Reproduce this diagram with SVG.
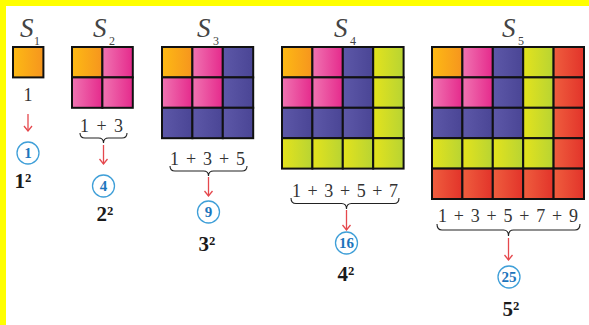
<svg xmlns="http://www.w3.org/2000/svg" width="589" height="325" viewBox="0 0 589 325">
<defs>
<linearGradient id="gO" x1="0" y1="0" x2="1" y2="0"><stop offset="0" stop-color="#FDBA14"/><stop offset="1" stop-color="#F6951E"/></linearGradient>
<linearGradient id="gP" x1="0" y1="0" x2="1" y2="0"><stop offset="0" stop-color="#F074B2"/><stop offset="1" stop-color="#E52A8C"/></linearGradient>
<linearGradient id="gB" x1="0" y1="0" x2="1" y2="0"><stop offset="0" stop-color="#5D58A8"/><stop offset="1" stop-color="#4A4595"/></linearGradient>
<linearGradient id="gY" x1="0" y1="0" x2="1" y2="0"><stop offset="0" stop-color="#E4E31C"/><stop offset="1" stop-color="#B8D433"/></linearGradient>
<linearGradient id="gR" x1="0" y1="0" x2="1" y2="0"><stop offset="0" stop-color="#EF5E3E"/><stop offset="1" stop-color="#E2332A"/></linearGradient>
<marker id="ah" viewBox="0 0 10 10" refX="9" refY="5" markerWidth="10" markerHeight="10" markerUnits="userSpaceOnUse" orient="auto">
<path d="M4,1 L9,5 L4,9" fill="none" stroke="#E5484D" stroke-width="1.3"/>
</marker>
</defs>
<style>
.c{stroke:#111;stroke-width:2}
.o{fill:url(#gO)}.p{fill:url(#gP)}.b{fill:url(#gB)}.y{fill:url(#gY)}.r{fill:url(#gR)}
.lab{font-family:"Liberation Serif",serif;font-style:italic;font-size:27px;fill:#444}
.sub{font-family:"Liberation Serif",serif;font-size:12px;fill:#444}
.sum{font-family:"Liberation Serif",serif;font-size:18px;fill:#333;text-anchor:middle}
.circ{fill:#fff;stroke:#3F9FD8;stroke-width:1.3}
.cn{font-family:"Liberation Serif",serif;font-weight:bold;font-size:15px;fill:#1C75BC;text-anchor:middle}
.sq{font-family:"Liberation Serif",serif;font-weight:bold;font-size:21px;fill:#1a1a1a;text-anchor:middle}
.arr{stroke:#E5484D;stroke-width:1.3;fill:none;marker-end:url(#ah)}
.br{stroke:#222;stroke-width:1.1;fill:none}
</style>
<rect x="0" y="0" width="589" height="325" fill="#fff"/>
<rect x="0" y="0" width="589" height="6" fill="#FFFF00"/>
<rect x="0" y="0" width="6" height="325" fill="#FFFF00"/>

<g id="S1">
<text class="lab" x="20" y="37">S</text><text class="sub" x="34" y="45">1</text>
<rect class="c o" x="13" y="47" width="30.4" height="30.4"/>
<text class="sum" x="28" y="101" font-size="17">1</text>
<circle class="circ" cx="28" cy="153" r="11"/><text class="cn" x="28" y="158">1</text>
<text class="sq" x="23" y="188">1²</text>
</g>

<g id="S2">
<text class="lab" x="93" y="37">S</text><text class="sub" x="109" y="45">2</text>
<rect class="c o" x="72" y="47" width="30.4" height="30.4"/>
<rect class="c p" x="102.4" y="47" width="30.4" height="30.4"/>
<rect class="c p" x="72" y="77.4" width="30.4" height="30.4"/>
<rect class="c p" x="102.4" y="77.4" width="30.4" height="30.4"/>
<text class="sum" x="101.5" y="132" textLength="43" lengthAdjust="spacing">1 + 3</text>
<circle class="circ" cx="103.5" cy="186" r="11"/><text class="cn" x="103.5" y="191">4</text>
<text class="sq" x="105" y="221">2²</text>
</g>

<g id="S3">
<text class="lab" x="197" y="37">S</text><text class="sub" x="213" y="45">3</text>
<g class="c">
<rect class="o" x="162" y="47" width="30.4" height="30.4"/>
<rect class="p" x="192.4" y="47" width="30.4" height="30.4"/>
<rect class="b" x="222.8" y="47" width="30.4" height="30.4"/>
<rect class="p" x="162" y="77.4" width="30.4" height="30.4"/>
<rect class="p" x="192.4" y="77.4" width="30.4" height="30.4"/>
<rect class="b" x="222.8" y="77.4" width="30.4" height="30.4"/>
<rect class="b" x="162" y="107.8" width="30.4" height="30.4"/>
<rect class="b" x="192.4" y="107.8" width="30.4" height="30.4"/>
<rect class="b" x="222.8" y="107.8" width="30.4" height="30.4"/>
</g>
<text class="sum" x="207.5" y="165" textLength="75" lengthAdjust="spacing">1 + 3 + 5</text>
<circle class="circ" cx="208.5" cy="212" r="11"/><text class="cn" x="208.5" y="217">9</text>
<text class="sq" x="207" y="251">3²</text>
</g>

<g id="S4">
<text class="lab" x="334" y="37">S</text><text class="sub" x="350" y="45">4</text>
<g class="c">
<rect class="o" x="282" y="47" width="30.4" height="30.4"/>
<rect class="p" x="312.4" y="47" width="30.4" height="30.4"/>
<rect class="b" x="342.8" y="47" width="30.4" height="30.4"/>
<rect class="y" x="373.2" y="47" width="30.4" height="30.4"/>
<rect class="p" x="282" y="77.4" width="30.4" height="30.4"/>
<rect class="p" x="312.4" y="77.4" width="30.4" height="30.4"/>
<rect class="b" x="342.8" y="77.4" width="30.4" height="30.4"/>
<rect class="y" x="373.2" y="77.4" width="30.4" height="30.4"/>
<rect class="b" x="282" y="107.8" width="30.4" height="30.4"/>
<rect class="b" x="312.4" y="107.8" width="30.4" height="30.4"/>
<rect class="b" x="342.8" y="107.8" width="30.4" height="30.4"/>
<rect class="y" x="373.2" y="107.8" width="30.4" height="30.4"/>
<rect class="y" x="282" y="138.2" width="30.4" height="30.4"/>
<rect class="y" x="312.4" y="138.2" width="30.4" height="30.4"/>
<rect class="y" x="342.8" y="138.2" width="30.4" height="30.4"/>
<rect class="y" x="373.2" y="138.2" width="30.4" height="30.4"/>
</g>
<text class="sum" x="345" y="197" textLength="106" lengthAdjust="spacing">1 + 3 + 5 + 7</text>
<circle class="circ" cx="346.5" cy="243" r="11"/><text class="cn" x="346.5" y="248">16</text>
<text class="sq" x="346" y="281">4²</text>
</g>

<g id="S5">
<text class="lab" x="502" y="37">S</text><text class="sub" x="518" y="45">5</text>
<g class="c">
<rect class="o" x="432" y="47" width="30.4" height="30.4"/>
<rect class="p" x="462.4" y="47" width="30.4" height="30.4"/>
<rect class="b" x="492.8" y="47" width="30.4" height="30.4"/>
<rect class="y" x="523.2" y="47" width="30.4" height="30.4"/>
<rect class="r" x="553.6" y="47" width="30.4" height="30.4"/>
<rect class="p" x="432" y="77.4" width="30.4" height="30.4"/>
<rect class="p" x="462.4" y="77.4" width="30.4" height="30.4"/>
<rect class="b" x="492.8" y="77.4" width="30.4" height="30.4"/>
<rect class="y" x="523.2" y="77.4" width="30.4" height="30.4"/>
<rect class="r" x="553.6" y="77.4" width="30.4" height="30.4"/>
<rect class="b" x="432" y="107.8" width="30.4" height="30.4"/>
<rect class="b" x="462.4" y="107.8" width="30.4" height="30.4"/>
<rect class="b" x="492.8" y="107.8" width="30.4" height="30.4"/>
<rect class="y" x="523.2" y="107.8" width="30.4" height="30.4"/>
<rect class="r" x="553.6" y="107.8" width="30.4" height="30.4"/>
<rect class="y" x="432" y="138.2" width="30.4" height="30.4"/>
<rect class="y" x="462.4" y="138.2" width="30.4" height="30.4"/>
<rect class="y" x="492.8" y="138.2" width="30.4" height="30.4"/>
<rect class="y" x="523.2" y="138.2" width="30.4" height="30.4"/>
<rect class="r" x="553.6" y="138.2" width="30.4" height="30.4"/>
<rect class="r" x="432" y="168.6" width="30.4" height="30.4"/>
<rect class="r" x="462.4" y="168.6" width="30.4" height="30.4"/>
<rect class="r" x="492.8" y="168.6" width="30.4" height="30.4"/>
<rect class="r" x="523.2" y="168.6" width="30.4" height="30.4"/>
<rect class="r" x="553.6" y="168.6" width="30.4" height="30.4"/>
</g>
<text class="sum" x="508" y="222" textLength="140" lengthAdjust="spacing">1 + 3 + 5 + 7 + 9</text>
<circle class="circ" cx="509" cy="277" r="11"/><text class="cn" x="509" y="282">25</text>
<text class="sq" x="511" y="316">5²</text>
</g>

<g id="connectors">
<path class="br" d="M80,133 Q80,138 85,138 L98.5,138 Q103.5,138 103.5,143 Q103.5,138 108.5,138 L122,138 Q127,138 127,133"/>
<path class="br" d="M170,166 Q170,171 175,171 L203.5,171 Q208.5,171 208.5,176 Q208.5,171 213.5,171 L242,171 Q247,171 247,166"/>
<path class="br" d="M291,198 Q291,203.5 296,203.5 L341.5,203.5 Q346.5,203.5 346.5,209 Q346.5,203.5 351.5,203.5 L394,203.5 Q399,203.5 399,198"/>
<path class="br" d="M437,224 Q437,230 442,230 L503.5,230 Q508.5,230 508.5,236 Q508.5,230 513.5,230 L575,230 Q580,230 580,224"/>
<line class="arr" x1="28" y1="114" x2="28" y2="131"/>
<line class="arr" x1="103.5" y1="145" x2="103.5" y2="164"/>
<line class="arr" x1="208.5" y1="177" x2="208.5" y2="196"/>
<line class="arr" x1="346.5" y1="210" x2="346.5" y2="230"/>
<line class="arr" x1="508.5" y1="238" x2="508.5" y2="260"/>
</g>
</svg>
